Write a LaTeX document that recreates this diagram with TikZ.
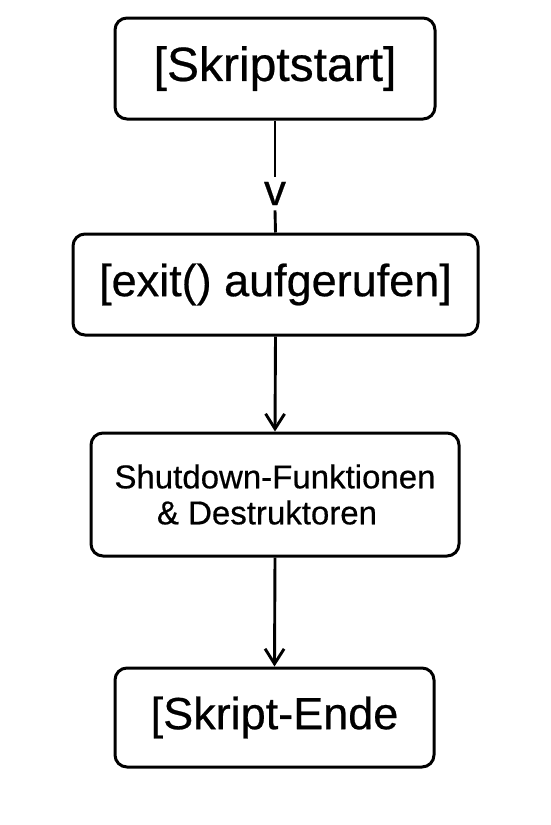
\documentclass[tikz,border=0pt]{standalone}
\usepackage{fontspec}
\setmainfont[FakeBold=0.5]{Liberation Sans}
\usetikzlibrary{arrows.meta}
\begin{document}
\begin{tikzpicture}[x=1pt,y=-1pt,
  box/.style={draw=black,line width=3pt,rounded corners=12pt,inner sep=0pt,align=center},
  conn/.style={line width=2.9pt,draw=black},
  arr/.style={conn,-{Straight Barb[length=15pt,width=19pt,line width=2.9pt]}}]
\useasboundingbox[fill=white] (0,0) rectangle (550,825);
\node[box,minimum width=320pt,minimum height=101pt,font=\fontsize{48}{50}\selectfont] (s1) at (275,68.5) {\raisebox{-3pt}{[Skriptstart]}};
\node[inner xsep=0pt,inner ysep=5pt,font=\fontsize{44}{46}\selectfont] (v) at (275,193.5) {v};
\node[box,minimum width=405pt,minimum height=101pt,font=\fontsize{45}{48}\selectfont] (s2) at (275.5,284.5) {[exit() aufgerufen]};
\node[box,minimum width=368pt,minimum height=123pt,font=\fontsize{33}{36}\selectfont] (s3) at (275,494.5) {Shutdown-Funktionen\\\& Destruktoren\hspace*{16pt}};
\node[box,minimum width=319pt,minimum height=99pt,font=\fontsize{45}{48}\selectfont] (s4) at (274.5,717.5) {\raisebox{-2pt}{[Skript-Ende}};
\draw[conn] (s1.south) -- (v.north);
\draw[conn] (v.south) -- (s2.north);
\draw[arr] (s2.south) -- (s3.north);
\draw[arr] (s3.south) -- (s4.north);
\end{tikzpicture}
\end{document}
